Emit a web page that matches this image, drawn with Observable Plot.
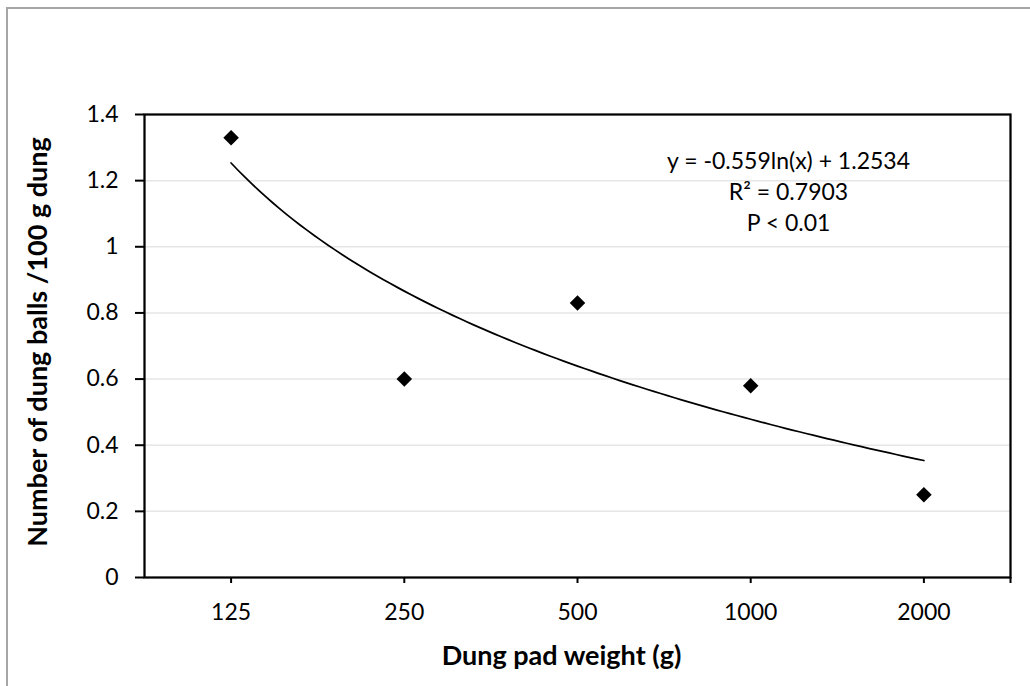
<!DOCTYPE html>
<html>
<head>
<meta charset="utf-8">
<script src="https://cdn.jsdelivr.net/npm/d3@7"></script>
<script src="https://cdn.jsdelivr.net/npm/@observablehq/plot@0.6"></script>
<style>
  html, body { margin: 0; padding: 0; background: #fff; overflow: hidden; }
  #wrap { position: relative; width: 1030px; height: 686px; overflow: hidden; }
  #border { position: absolute; left: 6px; top: 7px; width: 1100px; height: 800px; border: 2px solid #a6a6a6; box-sizing: border-box; }
  #chart { position: absolute; left: 0; top: 0; }
</style>
</head>
<body>
<div id="wrap"><div id="border"></div><div id="chart"></div></div>
<script>
// Data
const categories = ["125", "250", "500", "1000", "2000"];
const values = [1.33, 0.60, 0.83, 0.58, 0.25];
const yTicks = [0, 0.2, 0.4, 0.6, 0.8, 1.0, 1.2, 1.4];
// Logarithmic trendline as printed on the chart: y = -0.559 ln(x) + 1.2534
const trendSlope = -0.559;
const trendIntercept = 1.2534;
const equationLines = ["y = -0.559ln(x) + 1.2534", "R² = 0.7903", "P < 0.01"];
const xTitle = "Dung pad weight (g)";
const yTitle = "Number of dung balls /100 g dung";

const points = categories.map((c, i) => ({idx: i + 1, label: c, value: values[i]}));
const trend = d3.range(1, categories.length + 0.0001, 0.04).map(i => ({idx: i, value: trendSlope * Math.log(i) + trendIntercept}));

const font = "Lato, 'Open Sans', sans-serif";

const chart = Plot.plot({
  width: 1030,
  height: 686,
  marginLeft: 144,
  marginRight: 20,
  marginTop: 114,
  marginBottom: 109,
  style: {fontFamily: font, background: "transparent", color: "black"},
  x: {type: "linear", domain: [0.5, categories.length + 0.5], axis: null},
  y: {domain: [0, 1.4], axis: null},
  marks: [
    Plot.gridY(yTicks.slice(1, -1), {stroke: "#e6e6e6", strokeOpacity: 1, strokeWidth: 1.5}),
    Plot.axisY({ticks: yTicks, tickSize: 9, tickPadding: 17, fontSize: 23, label: null,
      tickFormat: d => String(+d.toFixed(1)), stroke: "black", strokeWidth: 2}),
    Plot.axisX({ticks: [1, 2, 3, 4, 5, 5.5], tickSize: 6, tickPadding: 20, fontSize: 23, label: null,
      tickFormat: d => categories[d - 1] ?? "", stroke: "black", strokeWidth: 2}),
    Plot.frame({stroke: "black", strokeWidth: 2.25}),
    Plot.line(trend, {x: "idx", y: "value", stroke: "black", strokeWidth: 1.75}),
    Plot.dot(points, {x: "idx", y: "value", symbol: "diamond2", fill: "black", stroke: "none", r: 7}),
    Plot.text([equationLines.join("\n")], {frameAnchor: "top", dx: 211, dy: 32, fontSize: 23, lineHeight: 1.35, lineAnchor: "top", textAnchor: "middle", fill: "black"}),
    Plot.text([yTitle], {frameAnchor: "left", dx: -106, dy: -4, rotate: -90, textAnchor: "middle", fontSize: 27, fontWeight: "bold", fill: "black"}),
    Plot.text([xTitle], {frameAnchor: "bottom", dx: -16, dy: 87, textAnchor: "middle", fontSize: 27, fontWeight: "bold", fill: "black"})
  ]
});
document.getElementById("chart").appendChild(chart);
</script>
</body>
</html>
